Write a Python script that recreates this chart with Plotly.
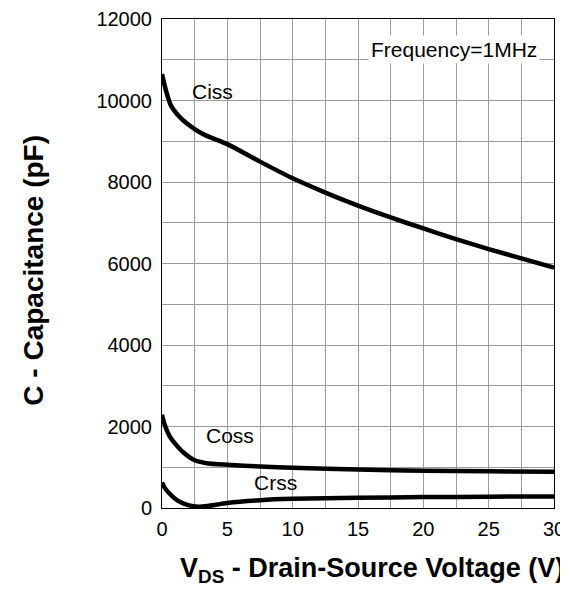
import plotly.graph_objects as go

# Data
ciss_v = [0, 0.3, 0.7, 1.5, 2.5, 3.3, 5, 7.5, 10, 12.5, 15, 17.5, 20, 22.5, 25, 27.5, 30]
ciss_c = [10650, 10250, 9870, 9550, 9300, 9150, 8930, 8500, 8090, 7740, 7420, 7130, 6860, 6600, 6355, 6125, 5900]

coss_v = [0, 0.2, 0.6, 1.0, 1.6, 2.5, 3.4, 5, 7.5, 10, 15, 20, 25, 30]
coss_c = [2290, 2050, 1750, 1580, 1375, 1170, 1100, 1060, 1020, 985, 942, 915, 900, 890]

crss_v = [0, 0.2, 0.5, 1.2, 2.0, 2.8, 3.5, 5, 7.5, 10, 15, 20, 25, 30]
crss_c = [625, 500, 380, 180, 70, 30, 50, 125, 192, 225, 250, 267, 277, 285]

x_ticks = [0, 5, 10, 15, 20, 25, 30]
y_ticks = [0, 2000, 4000, 6000, 8000, 10000, 12000]

FONT = "Arial, Liberation Sans, sans-serif"

fig = go.Figure()
for xs, ys in [(ciss_v, ciss_c), (coss_v, coss_c), (crss_v, crss_c)]:
    fig.add_trace(go.Scatter(x=xs, y=ys, mode="lines",
                             line=dict(color="black", width=4.5, shape="spline", smoothing=0.7),
                             showlegend=False, hoverinfo="skip"))

# page body has an 8px margin, so the figure is sized to fit the 568x599 window
fig.update_layout(
    width=560, height=591,
    margin=dict(l=154, r=14, t=11, b=91),
    paper_bgcolor="white", plot_bgcolor="white",
    font=dict(family=FONT, size=20, color="black"),
)
fig.update_xaxes(
    range=[0, 30], tickvals=x_ticks, ticktext=[str(v) for v in x_ticks],
    showgrid=True, gridcolor="#9a9a9a", gridwidth=1,
    minor=dict(dtick=2.5, showgrid=True, gridcolor="#9a9a9a", gridwidth=1),
    showline=True, linecolor="black", linewidth=1, mirror=True,
    ticks="", ticklabelstandoff=3, zeroline=False, automargin=False,
    tickfont=dict(size=20),
)
fig.update_yaxes(
    range=[0, 12000], tickvals=y_ticks, ticktext=[str(v) for v in y_ticks],
    showgrid=True, gridcolor="#9a9a9a", gridwidth=1,
    minor=dict(dtick=1000, showgrid=True, gridcolor="#9a9a9a", gridwidth=1),
    showline=True, linecolor="black", linewidth=1, mirror=True,
    ticks="", ticklabelstandoff=5, zeroline=False, automargin=False,
    tickfont=dict(size=20),
)

fig.add_annotation(x=3.87, y=10214, text="Ciss", showarrow=False, font=dict(size=21))
fig.add_annotation(x=5.2, y=1790, text="Coss", showarrow=False, font=dict(size=21))
fig.add_annotation(x=8.7, y=620, text="Crss", showarrow=False, font=dict(size=21))
fig.add_annotation(x=22.35, y=11240, text="Frequency=1MHz", showarrow=False,
                   font=dict(size=21), bgcolor="white", borderpad=2)

fig.add_annotation(xref="paper", yref="paper", x=0.536, y=-0.127,
                   text="<b>V<sub>DS</sub> - Drain-Source Voltage (V)</b>", showarrow=False,
                   font=dict(size=27, family=FONT), xanchor="center", yanchor="middle")
fig.add_annotation(xref="paper", yref="paper", x=-0.327, y=0.487, textangle=-90,
                   text="<b>C - Capacitance (pF)</b>", showarrow=False,
                   font=dict(size=28, family=FONT), xanchor="center", yanchor="middle")

fig.write_html("out.html")
